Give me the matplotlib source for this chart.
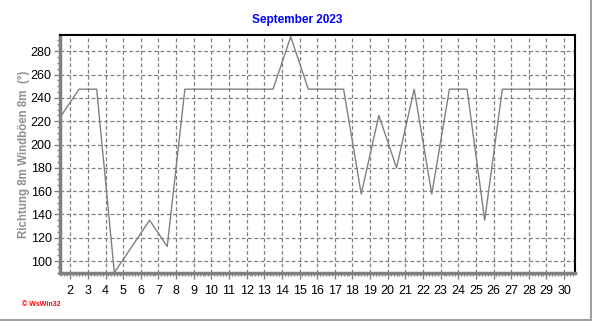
import matplotlib
matplotlib.use("Agg")
import matplotlib.pyplot as plt
from matplotlib.ticker import MultipleLocator
import numpy as np

# Data: daily wind gust direction (degrees), plotted at mid-day
days = list(range(1, 31))
direction = [225, 247.5, 247.5, 90, 112.5, 135, 112.5, 247.5, 247.5, 247.5,
             247.5, 247.5, 247.5, 292.5, 247.5, 247.5, 247.5, 157.5, 225, 180,
             247.5, 157.5, 247.5, 247.5, 135, 247.5, 247.5, 247.5, 247.5, 247.5]
x_tick_labels = [str(d) for d in range(2, 31)]
y_ticks = list(range(100, 281, 20))
title = "September 2023"
ylabel = "Richtung 8m Windböen 8m  (°)"

plt.rcParams['font.family'] = ['Liberation Sans', 'DejaVu Sans']

W, H = 592, 321
fig = plt.figure(figsize=(W / 100, H / 100), dpi=100)
fig.patch.set_facecolor('white')

L, R, T, B = 60, 575, 35, 273
ax = fig.add_axes([L / W, 1 - B / H, (R - L) / W, (B - T) / H])

xs = [d + 0.5 for d in days]
ax.plot(xs, direction, color='#808080', lw=1.0, clip_on=True)

ax.set_xlim(1.42, 30.62)
ax.set_ylim(89.7, 294)

ax.set_xticks(range(2, 31))
ax.set_xticklabels(x_tick_labels)
ax.xaxis.set_minor_locator(MultipleLocator(1 / 6))
ax.set_yticks(y_ticks)
ax.yaxis.set_minor_locator(MultipleLocator(5))

ax.grid(True, which='major', color='#808080', linestyle=(0, (3, 2)), lw=0.9)
ax.set_axisbelow(True)

for s in ['top', 'right']:
    ax.spines[s].set_color('black')
    ax.spines[s].set_linewidth(1.5)
for s in ['left', 'bottom']:
    ax.spines[s].set_color('#808080')
    ax.spines[s].set_linewidth(2.5)

ax.tick_params(axis='both', which='major', labelsize=9, colors='black',
               length=4, width=1)
ax.tick_params(axis='x', which='major', color='#808080', length=4, pad=5)
ax.tick_params(axis='y', which='major', color='#808080', length=4, pad=2)
ax.tick_params(axis='both', which='minor', color='#808080', length=2, width=1)

fig.text(297 / W, 1 - 20 / H, title, color='#0000ff', fontsize=8.5,
         fontweight='bold', ha='center', va='center')
fig.text(24 / W, 1 - 154 / H, ylabel, color='#909090', fontsize=8.3,
         fontweight='bold', ha='center', va='center', rotation=90)
fig.text(22 / W, 1 - 304 / H, "\u00a9 WsWin32", color='#ff0000', fontsize=5,
         fontweight='bold', ha='left', va='center')

# figure border lines (bottom and right)
fig.add_artist(plt.Line2D([0, 590.5 / W], [1 - 319.5 / H, 1 - 319.5 / H],
                          color='#a0a0a0', lw=1.5, transform=fig.transFigure))
fig.add_artist(plt.Line2D([590.5 / W, 590.5 / W], [1 - 319.5 / H, 1],
                          color='#a0a0a0', lw=1.5, transform=fig.transFigure))

fig.savefig('out.png', dpi=100, facecolor='white')
